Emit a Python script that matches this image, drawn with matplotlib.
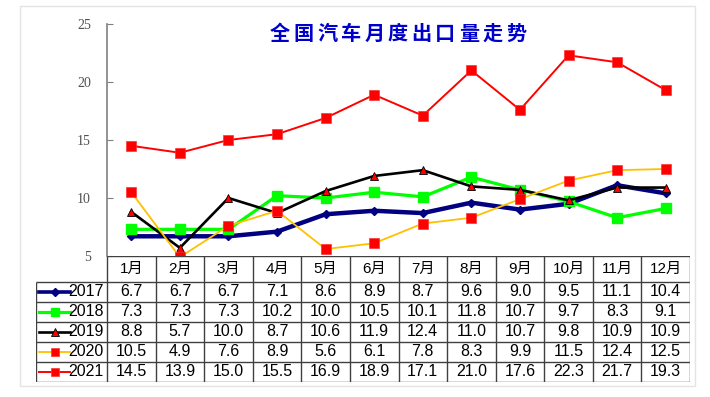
import numpy as np
import matplotlib.pyplot as plt
from matplotlib.patches import Rectangle

# Data (10k units)
months = ["1月", "2月", "3月", "4月", "5月", "6月", "7月", "8月", "9月", "10月", "11月", "12月"]
years = ["2017", "2018", "2019", "2020", "2021"]
v2017 = [6.7, 6.7, 6.7, 7.1, 8.6, 8.9, 8.7, 9.6, 9.0, 9.5, 11.1, 10.4]
v2018 = [7.3, 7.3, 7.3, 10.2, 10.0, 10.5, 10.1, 11.8, 10.7, 9.7, 8.3, 9.1]
v2019 = [8.8, 5.7, 10.0, 8.7, 10.6, 11.9, 12.4, 11.0, 10.7, 9.8, 10.9, 10.9]
v2020 = [10.5, 4.9, 7.6, 8.9, 5.6, 6.1, 7.8, 8.3, 9.9, 11.5, 12.4, 12.5]
v2021 = [14.5, 13.9, 15.0, 15.5, 16.9, 18.9, 17.1, 21.0, 17.6, 22.3, 21.7, 19.3]
title = "全国汽车月度出口量走势"

series = [v2017, v2018, v2019, v2020, v2021]
styles = [
    dict(color="#000080", lw=3.2, marker="D", ms=4.5, mfc="#000080", mec="#000080"),
    dict(color="#00FF00", lw=2.3, marker="s", ms=7, mfc="#00FF00", mec="#00FF00"),
    dict(color="#000000", lw=1.9, marker="^", ms=6, mfc="#FF0000", mec="#000000", mew=0.6),
    dict(color="#FFC000", lw=1.3, marker="s", ms=6.5, mfc="#FF0000", mec="#FF3030", mew=0.5),
    dict(color="#FF0000", lw=1.4, marker="s", ms=6.5, mfc="#FF0000", mec="#FF3030", mew=0.5),
]

W, H = 710, 397
fig = plt.figure(figsize=(W / 100, H / 100), dpi=100)

def fx(px):
    return px / W

def fy(py):
    return 1 - py / H

# outer frame
fig.patches.append(Rectangle((fx(20), fy(386)), fx(695) - fx(20), fy(6) - fy(386),
                             transform=fig.transFigure, fill=False, ec="#E4E4E4", lw=1))

left, right, top, bottom = 107, 690, 24, 256
ax = fig.add_axes([fx(left), fy(bottom), fx(right) - fx(left), fy(top) - fy(bottom)])
n = len(months)
x = np.arange(n)
for vals, st in zip(series, styles):
    ax.plot(x, vals, **st)

ax.set_xlim(-0.5, n - 0.5)
ax.set_ylim(5, 25)
ax.set_yticks([5, 10, 15, 20, 25])
ax.set_xticks([])
for s in ["top", "right", "bottom"]:
    ax.spines[s].set_visible(False)
ax.spines["left"].set_color("#808080")
ax.spines["left"].set_linewidth(1.2)
ax.tick_params(axis="y", direction="in", length=4, color="#808080", pad=11.5,
               labelsize=10, labelcolor="#505050")
for lab in ax.get_yticklabels():
    lab.set_family("Liberation Serif")

# title
for i, ch in enumerate(title):
    fig.text(fx(280 + i * 23.6), fy(33), ch, color="#0000CC", fontsize=14.5, fontweight="bold",
             family=["Noto Sans CJK SC"], ha="center", va="center")

# data table
cat_w = (right - left) / n
leg_w = (left - 36) / cat_w
tb = 382
tax = fig.add_axes([fx(36), fy(tb), fx(right) - fx(36), fy(bottom) - fy(tb)])
hdr = 1.3
nrows = len(years)
tax.set_xlim(-0.5 - leg_w, n - 0.5)
tax.set_ylim(hdr + nrows, 0)
tax.axis("off")
lc = "#404040"
lkw = dict(color=lc, lw=1.0, solid_capstyle="butt")
# horizontals
tax.plot([-0.5, n - 0.5], [0, 0], **lkw)
for r in range(nrows + 1):
    tax.plot([-0.5 - leg_w, n - 0.5], [hdr + r, hdr + r], **lkw)
# verticals
tax.plot([-0.5 - leg_w] * 2, [hdr, hdr + nrows], **lkw)
for c in range(n + 1):
    tax.plot([c - 0.5] * 2, [0, hdr + nrows], **lkw)

tfont = ["Liberation Sans", "Noto Sans CJK SC"]
for c, m in enumerate(months):
    tax.text(c, hdr / 2, m, ha="center", va="center", fontsize=11, family=tfont)
for r, (yr, vals, st) in enumerate(zip(years, series, styles)):
    yc = hdr + r + 0.5
    for c, v in enumerate(vals):
        tax.text(c, yc, f"{v:.1f}", ha="center", va="center", fontsize=11.5, family=tfont)
    x0 = -0.5 - leg_w + 0.07
    x1 = x0 + 0.64
    st2 = dict(st)
    st2["lw"] = min(st["lw"], 2.6)
    st2["ms"] = st["ms"] * 0.85
    tax.plot([x0, x1], [yc, yc], **{k: v for k, v in st2.items() if k not in ("marker", "ms", "mfc", "mec", "mew")})
    tax.plot([(x0 + x1) / 2], [yc], linestyle="none", **{k: v for k, v in st2.items() if k not in ("color", "lw")})
    tax.text(-0.5 - 0.07, yc, yr, ha="right", va="center", fontsize=11.5, family=tfont)

fig.savefig("out.png", dpi=100)
